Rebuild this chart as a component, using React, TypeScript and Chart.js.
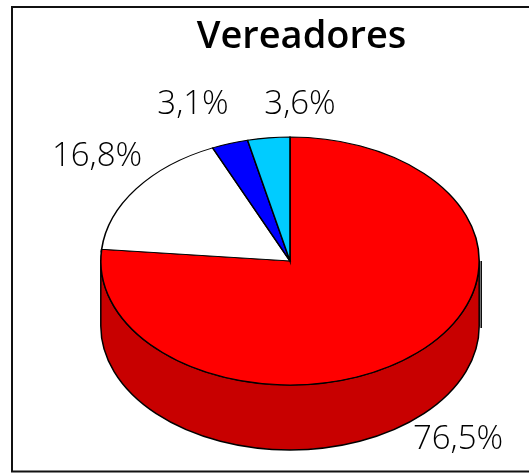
import React, { useEffect, useRef } from "react";
import { Chart, registerables } from "chart.js";

Chart.register(...registerables);

const titleText = "Vereadores";
const categories = ["A", "B", "C", "D"];
const values = [76.5, 16.8, 3.1, 3.6];
const valueLabels = ["76,5%", "16,8%", "3,1%", "3,6%"];
const colors = ["#FF0000", "#FFFFFF", "#0000FF", "#00CCFF"];
const labelCenters: [number, number][] = [[458, 440], [97, 157], [193, 105], [300, 105]];
const fontFamily = "'Open Sans', 'Noto Sans', sans-serif";

const SQUASH = 0.655;
const DEPTH = 65;
const SIDE = "#C80000";
const TITLE_SHIFT = 11.5;

function pieGeometry(chart: any) {
  const arc = chart.getDatasetMeta(0).data[0];
  return { cx: arc.x, cy: arc.y, r: arc.outerRadius };
}

const pie3d = {
  id: "pie3d",
  afterLayout(chart: any) {
    if (chart.titleBlock) {
      chart.titleBlock.left += TITLE_SHIFT;
      chart.titleBlock.right += TITLE_SHIFT;
    }
  },
  beforeDatasetsDraw(chart: any) {
    const { ctx } = chart;
    const { cx, cy, r } = pieGeometry(chart);
    const ry = r * SQUASH;
    const first = chart.getDatasetMeta(0).data[0];
    const a1 = Math.min(first.endAngle, Math.PI);
    ctx.save();
    ctx.beginPath();
    ctx.ellipse(cx, cy, r, ry, 0, 0, a1, false);
    ctx.ellipse(cx, cy + DEPTH, r, ry, 0, a1, 0, true);
    ctx.closePath();
    ctx.fillStyle = SIDE;
    ctx.fill();
    ctx.strokeStyle = "#000";
    ctx.lineWidth = 1.5;
    ctx.stroke();
    ctx.beginPath();
    ctx.moveTo(cx + r + 2, cy);
    ctx.lineTo(cx + r + 2, cy + DEPTH + 2);
    ctx.stroke();
    ctx.restore();
    ctx.save();
    ctx.translate(cx, cy);
    ctx.scale(1, SQUASH);
    ctx.translate(-cx, -cy);
  },
  afterDatasetsDraw(chart: any) {
    const { ctx } = chart;
    ctx.restore();
    ctx.save();
    ctx.fillStyle = "#000";
    ctx.font = `300 33px ${fontFamily}`;
    ctx.textAlign = "center";
    ctx.textBaseline = "middle";
    valueLabels.forEach((t, i) => ctx.fillText(t, labelCenters[i][0], labelCenters[i][1]));
    ctx.restore();
  },
};

const frame = {
  id: "frame",
  beforeDraw(chart: any) {
    const { ctx, width } = chart;
    ctx.save();
    ctx.strokeStyle = "#111";
    ctx.lineWidth = 2;
    ctx.beginPath();
    ctx.moveTo(width, 7);
    ctx.lineTo(12, 7);
    ctx.lineTo(12, 471.5);
    ctx.lineTo(width, 471.5);
    ctx.stroke();
    ctx.restore();
  },
};

export default function App() {
  const ref = useRef<HTMLCanvasElement>(null);
  useEffect(() => {
    document.body.style.margin = "0";
    const chart = new Chart(ref.current!, {
      type: "pie",
      data: {
        labels: categories,
        datasets: [
          {
            data: values,
            backgroundColor: colors,
            borderColor: "#000000",
            borderWidth: 1.6,
            borderJoinStyle: "miter",
            borderAlign: "center",
          } as any,
        ],
      },
      options: {
        responsive: false,
        animation: false,
        rotation: 0,
        layout: { padding: { left: 100, right: 49, top: 14, bottom: 22 } },
        plugins: {
          legend: { display: false },
          tooltip: { enabled: false },
          title: {
            display: true,
            text: titleText,
            color: "#000",
            font: { family: fontFamily, size: 38, weight: "600", lineHeight: 1.2 },
            padding: { top: 0, bottom: 11.4 },
            align: "center",
          },
        },
      },
      plugins: [frame, pie3d],
    } as any);
    return () => chart.destroy();
  }, []);
  return <canvas ref={ref} width={529} height={473} style={{ display: "block" }} />;
}
